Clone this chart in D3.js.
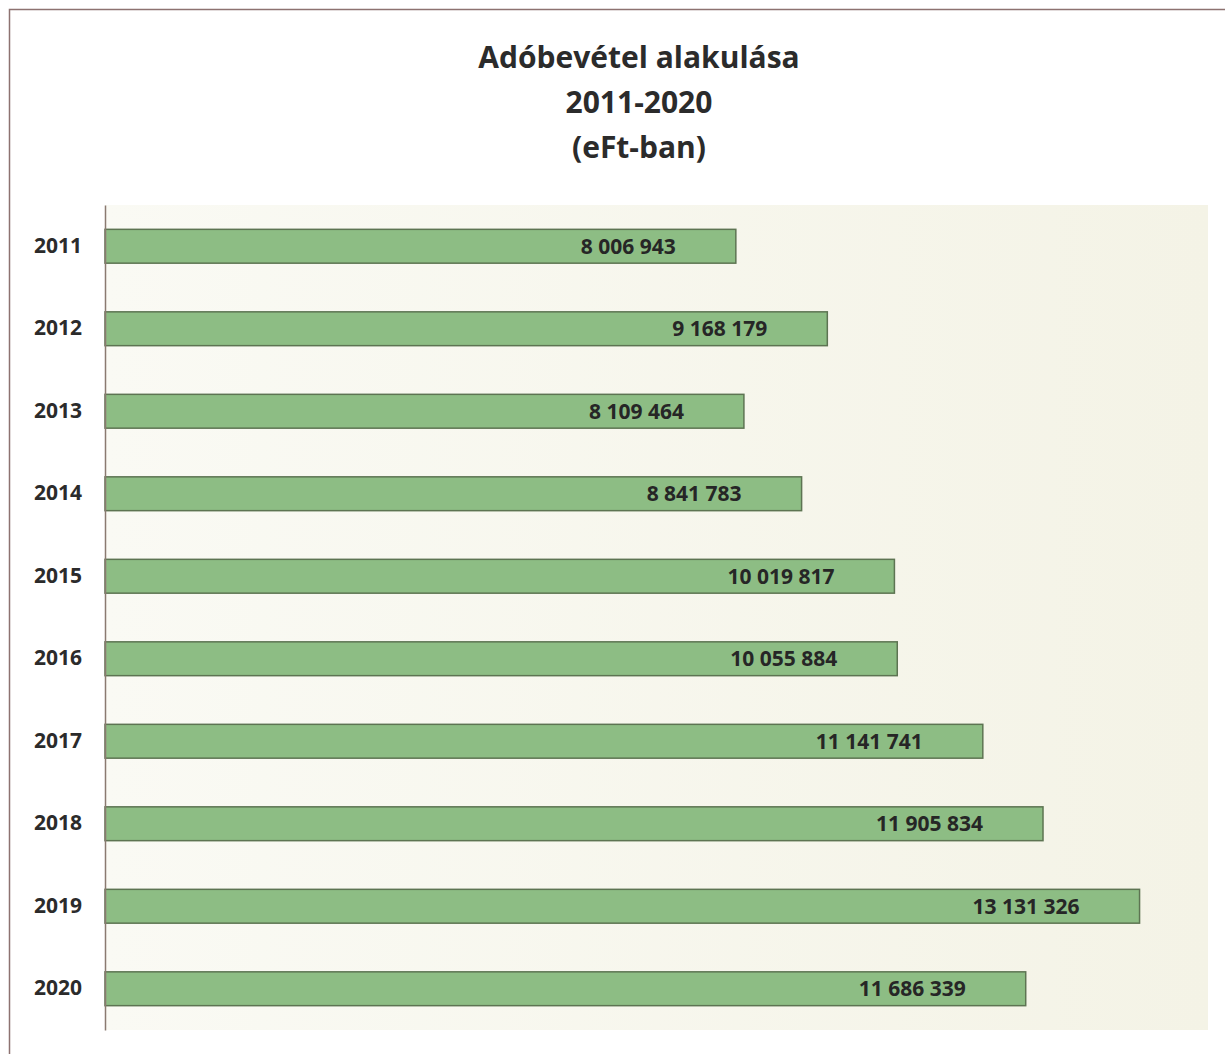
<!DOCTYPE html>
<html><head><meta charset="utf-8">
<script src="https://cdn.jsdelivr.net/npm/d3@7"></script>
<style>body{margin:0;background:#fff}svg{display:block}</style>
</head><body>
<svg id="c" width="1225" height="1054"></svg>
<script>
const years = ["2011","2012","2013","2014","2015","2016","2017","2018","2019","2020"];
const values = [8006943, 9168179, 8109464, 8841783, 10019817, 10055884, 11141741, 11905834, 13131326, 11686339];
const titleLines = ["Adóbevétel alakulása", "2011-2020", "(eFt-ban)"];
const xMax = 14000000;

const svg = d3.select("#c");
const m = {left:105, right:1208, top:205, bottom:1030};
const font = "'Open Sans', Lato, sans-serif";

// outer frame
svg.append("rect").attr("x",9.5).attr("y",9.5).attr("width",1240).attr("height",1100)
  .attr("fill","none").attr("stroke","#8d7270").attr("stroke-width",1.5);

const defs = svg.append("defs");
const g1 = defs.append("linearGradient").attr("id","bg").attr("x1","0").attr("x2","1").attr("y1","0").attr("y2","0");
g1.append("stop").attr("offset","0").attr("stop-color","#fafaf4");
g1.append("stop").attr("offset","1").attr("stop-color","#f4f3e6");

svg.append("rect").attr("x",m.left).attr("y",m.top).attr("width",m.right-m.left).attr("height",m.bottom-m.top)
  .attr("fill","url(#bg)");

// title
svg.append("g").selectAll("text").data(titleLines).join("text")
  .attr("x",639).attr("y",(d,i)=>68+i*45)
  .attr("text-anchor","middle").attr("font-family",font).attr("font-weight","bold")
  .attr("font-size",30).attr("fill","#2b2b2b").text(d=>d);

const x = d3.scaleLinear().domain([0,xMax]).range([m.left,m.right]);
const y = d3.scaleBand().domain(years).range([m.top,m.bottom]).paddingInner(0.59).paddingOuter(0.295);

const data = years.map((yr,i)=>({yr, v:values[i]}));

svg.append("g").selectAll("rect").data(data).join("rect")
  .attr("x",x(0)).attr("y",d=>y(d.yr)).attr("width",d=>x(d.v)-x(0)).attr("height",y.bandwidth())
  .attr("fill","#8dbd84").attr("stroke","#5d7452").attr("stroke-width",1.5);

const fmt = v => d3.format(",")(v).replace(/,/g," ");
svg.append("g").selectAll("text").data(data).join("text")
  .attr("x",d=>x(d.v)-60).attr("y",d=>y(d.yr)+y.bandwidth()/2)
  .attr("dy","0.36em").attr("text-anchor","end")
  .attr("font-family",font).attr("font-weight","bold").attr("font-size",21)
  .attr("fill","#262626").text(d=>fmt(d.v));

// y axis
const ax = svg.append("g").attr("transform",`translate(${m.left},0)`)
  .call(d3.axisLeft(y).tickSize(0).tickPadding(23));
ax.select(".domain").attr("stroke","#8a7a70").attr("stroke-width",1.5);
ax.selectAll("text").attr("font-family",font).attr("font-weight","bold").attr("font-size",21).attr("fill","#2b2b2b");
</script>
</body></html>
